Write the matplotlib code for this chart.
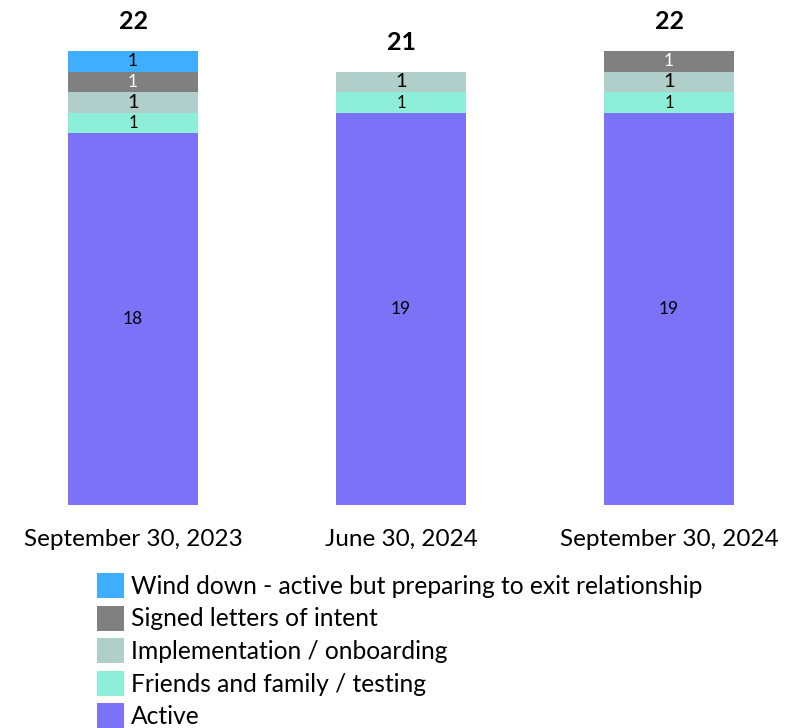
import matplotlib
matplotlib.use("Agg")
import matplotlib.pyplot as plt
from matplotlib.patches import Patch

plt.rcParams['font.family'] = ['Lato', 'DejaVu Sans']

categories = ["September 30, 2023", "June 30, 2024", "September 30, 2024"]
series_names = ["Active", "Friends and family / testing", "Implementation / onboarding",
                "Signed letters of intent", "Wind down - active but preparing to exit relationship"]
active = [18, 19, 19]
friends = [1, 1, 1]
implementation = [1, 1, 1]
signed = [1, 0, 1]
wind_down = [1, 0, 0]
totals = [22, 21, 22]

colors = ["#7B72F7", "#8DEFDA", "#B0CFCA", "#808080", "#3FAEFF"]
text_colors = ["black", "black", "black", "white", "black"]
label_sizes = [12.5, 12, 14.5, 12.5, 12.5]

fig = plt.figure(figsize=(7.94, 7.28), dpi=100)
ax = fig.add_axes([0, (728 - 505) / 728, 1, 505 / 728])
ppu = 268.0
ax.set_xlim(-133 / ppu, (794 - 133) / ppu)
ax.set_ylim(0, 505 / 20.64)

x = list(range(len(categories)))
data = [active, friends, implementation, signed, wind_down]
bottom = [0, 0, 0]
for vals, col, tc, fs in zip(data, colors, text_colors, label_sizes):
    ax.bar(x, vals, width=130 / ppu, bottom=bottom, color=col, edgecolor='none')
    for i, v in enumerate(vals):
        if v > 0:
            ax.text(x[i], bottom[i] + v / 2, str(v), ha='center', va='center',
                    fontsize=fs, color=tc)
    bottom = [b + v for b, v in zip(bottom, vals)]

for i, t in enumerate(totals):
    ax.text(x[i], t + 0.85, str(t), ha='center', va='bottom', fontsize=18, fontweight='bold')

ax.set_xticks(x)
ax.set_xticklabels(categories, fontsize=17.5)
ax.tick_params(axis='x', length=0, pad=17)
ax.set_yticks([])
for s in ax.spines.values():
    s.set_visible(False)

handles = [Patch(facecolor=c, edgecolor='none') for c in colors[::-1]]
fig.legend(handles, series_names[::-1], loc='upper left',
           bbox_to_anchor=(97 / 794, 1 - 573 / 728), frameon=False,
           fontsize=17.7, handlelength=1.1, handleheight=1.2,
           labelspacing=0.3, handletextpad=0.3, borderaxespad=0, borderpad=0)

fig.savefig("out.png", dpi=100)
